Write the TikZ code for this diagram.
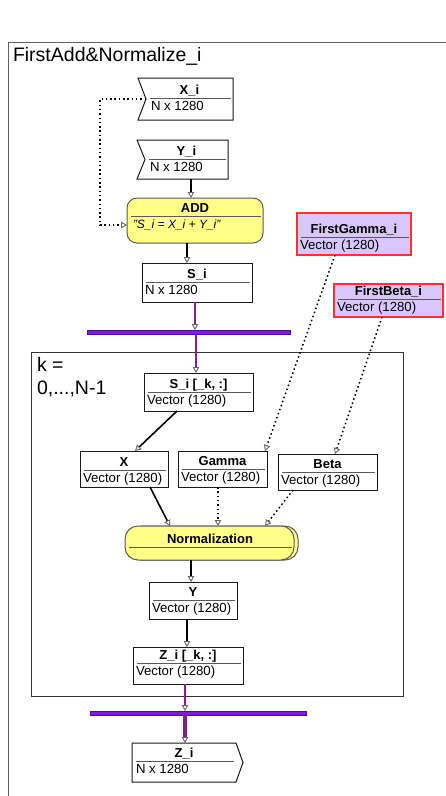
\documentclass[tikz,border=0pt]{standalone}
\usepackage{fontspec}
\setmainfont{Liberation Sans}
\usetikzlibrary{arrows.meta}

\definecolor{procyellow}{HTML}{FFFF88}
\definecolor{extlav}{HTML}{D9C6FF}
\definecolor{extred}{HTML}{FF3030}
\definecolor{barviolet}{HTML}{7F1AE6}
\definecolor{bardark}{HTML}{4A0E90}
\definecolor{conpurple}{HTML}{8A1A94}
\definecolor{framegray}{HTML}{606060}

\tikzset{
  every node/.style={inner sep=0pt, outer sep=0pt},
  databox/.style={draw=black!90, line width=1pt, fill=white},
  procbox/.style={draw=black!65, line width=1pt, fill=procyellow, rounded corners=10pt},
  extbox/.style={draw=extred, line width=1.2pt, fill=extlav},
  sepline/.style={line width=0.8pt, black!65},
  titletext/.style={font=\fontsize{13}{15}\selectfont\bfseries, anchor=base},
  subtext/.style={font=\fontsize{13.2}{15}\selectfont, anchor=base west},
  frametext/.style={font=\fontsize{19.5}{22}\selectfont, anchor=base west},
  flow/.style={line width=1.6pt, ->},
  dflow/.style={line width=1.5pt, dash pattern=on 1.5pt off 2.8pt, ->},
  pflow/.style={draw=conpurple, line width=1.8pt, ->},
  pflowthick/.style={draw=conpurple, line width=3.5pt, ->},
  syncbar/.style={draw=bardark, line width=0.6pt, fill=barviolet},
}

% plain or coloured box: [style]{name}{x1}{y1}{x2}{y2}{separator y}{title}{type}
\newcommand{\dbox}[9][databox]{%
  \node[#1, anchor=north west, minimum width={#5-#3}, minimum height={#6-#4}] (#2) at (#3,#4) {};
  \draw[sepline] ({#3+4},#7) -- ({#5-2},#7);
  \node[titletext] at ({(#3+#5)/2},{#7-3.5}) {#8};
  \node[subtext] at ({#3+3},{#7+12}) {#9};
}

% input port with a notch on the left: {name}{x1}{y1}{x2}{y2}{separator y}{title}{type}
\newcommand{\inport}[8]{%
  \node[anchor=north west, minimum width={#4-#2}, minimum height={#5-#3}] (#1) at (#2,#3) {};
  \draw[databox] (#2,#3) -- (#4,#3) -- (#4,#5) -- (#2,#5) -- ({#2+8},{(#3+#5)/2}) -- cycle;
  \draw[sepline] ({#2+12},#6) -- ({#4-2},#6);
  \node[titletext] at ({(#2+8+#4)/2},{#6-3.5}) {#7};
  \node[subtext] at ({#2+13},{#6+12}) {#8};
}

% output port pointing right: {name}{x1}{y1}{x2 (tip)}{y2}{separator y}{title}{type}
\newcommand{\outport}[8]{%
  \node[anchor=north west, minimum width={#4-#2}, minimum height={#5-#3}] (#1) at (#2,#3) {};
  \draw[databox] (#2,#3) -- ({#4-7},#3) -- (#4,{(#3+#5)/2}) -- ({#4-7},#5) -- (#2,#5) -- cycle;
  \draw[sepline] ({#2+4},#6) -- ({#4-9},#6);
  \node[titletext] at ({(#2+#4-7)/2},{#6-3.5}) {#7};
  \node[subtext] at ({#2+4},{#6+12}) {#8};
}

\begin{document}
\begin{tikzpicture}[x=1pt, y=-1pt,
  >={Triangle[fill=white, length=6pt, width=6.5pt, line width=0.9pt, color=black!60]}]
\useasboundingbox (0,0) rectangle (446,796);
\fill[white] (0,0) rectangle (446,796);

% outer block frame and its name
\draw[framegray, line width=1pt] (8,796) -- (8,42) -- (446,42);
\node[frametext] (blockname) at (13,61.7) {FirstAdd\&Normalize\_i};

% inputs and the add step
\inport{xin}{138}{78}{233}{120}{98}{X\_i}{N x 1280}
\inport{yin}{137}{140}{228}{179}{159}{Y\_i}{N x 1280}

\node[procbox, anchor=north west, minimum width=136, minimum height=45] (add) at (127,198) {};
\draw[sepline] (131,216) -- (261,216);
\node[titletext] at (195,212) {ADD};
\node[anchor=base west, font=\fontsize{12}{14}\selectfont\itshape] (addexpr) at (133,228) {"S\_i = X\_i + Y\_i"};

\dbox{sum}{142}{263}{252}{302}{282}{S\_i}{N x 1280}

% external parameters
\dbox[extbox]{fgam}{297}{213}{411}{255}{237}{FirstGamma\_i}{Vector (1280)}
\dbox[extbox]{fbet}{334}{284}{443}{317}{299}{FirstBeta\_i}{Vector (1280)}

% split bar
\node[syncbar, minimum width=203, minimum height=4] (bartop) at (188.5,332) {};

% loop frame
\draw[black!80, line width=1pt] (31,352) rectangle (403,696);
\node[frametext] (looplabel) at (37,371.7) {k =};
\node[frametext] (looprange) at (37,394) {0,...,N-1};

\dbox{srow}{144}{373}{253}{411}{392}{S\_i [\_k, :]}{Vector (1280)}
\dbox{xv}{80}{451}{168}{487}{470}{X}{Vector (1280)}
\dbox{gv}{178}{451}{267}{487}{469}{Gamma}{Vector (1280)}
\dbox{bv}{278}{454}{377}{490}{472}{Beta}{Vector (1280)}

% normalization step (stacked look)
\draw[procbox, rounded corners=13pt] (129,526) rectangle (298,560);
\node[procbox, rounded corners=13pt, anchor=north west, minimum width=169, minimum height=34] (norm) at (125,526) {};
\draw[sepline] (129,547) -- (292,547);
\node[titletext] at (210,543.5) {Normalization};

\dbox{yv}{149}{582}{237}{619}{600}{Y}{Vector (1280)}
\dbox{zrow}{133}{647}{243}{684}{663}{Z\_i [\_k, :]}{Vector (1280)}

% join bar and output
\node[syncbar, minimum width=216, minimum height=4] (barbot) at (198,713) {};
\outport{zout}{132}{743}{243}{782}{761}{Z\_i}{N x 1280}

% connectors
\draw[dflow] ([xshift=8pt]xin.west) -- ++(-46,0) |- ([yshift=-4.5pt]add.west);
\draw[flow] ([xshift=8.5pt]yin.south) -- ([xshift=-4pt]add.north);
\draw[flow] ([xshift=-8pt]add.south) -- ([xshift=-10pt]sum.north);
\draw[pflow] ([xshift=-2pt]sum.south) -- ([xshift=-2pt]sum.south |- bartop.north);
\draw[pflow] ([xshift=-2.5pt]srow.north |- bartop.south) -- ([xshift=-2.5pt]srow.north);
\draw[flow] ([xshift=-21.5pt]srow.south) -- ([xshift=11pt]xv.north);
\draw[dflow] ([xshift=-19pt]fgam.south) -- ([xshift=42.5pt]gv.north);
\draw[dflow] ([xshift=-6.5pt]fbet.south) -- ([xshift=7.5pt]bv.north);
\draw[flow] ([xshift=26pt]xv.south) -- ([xshift=-39.5pt]norm.north);
\draw[dflow] ([xshift=-4.5pt]gv.south) -- ([xshift=8.5pt]norm.north);
\draw[dflow] ([xshift=-34.5pt]bv.south) -- ([xshift=55.5pt]norm.north);
\draw[flow] ([xshift=-18.5pt]norm.south) -- ([xshift=-2pt]yv.north);
\draw[flow] ([xshift=-6pt]yv.south) -- ([xshift=-1pt]zrow.north);
\draw[pflow] ([xshift=-3pt]zrow.south) -- ([xshift=-3pt]zrow.south |- barbot.north);
\draw[pflowthick] ([xshift=-2.5pt]zout.north |- barbot.south) -- ([xshift=-2.5pt]zout.north);
\end{tikzpicture}
\end{document}
